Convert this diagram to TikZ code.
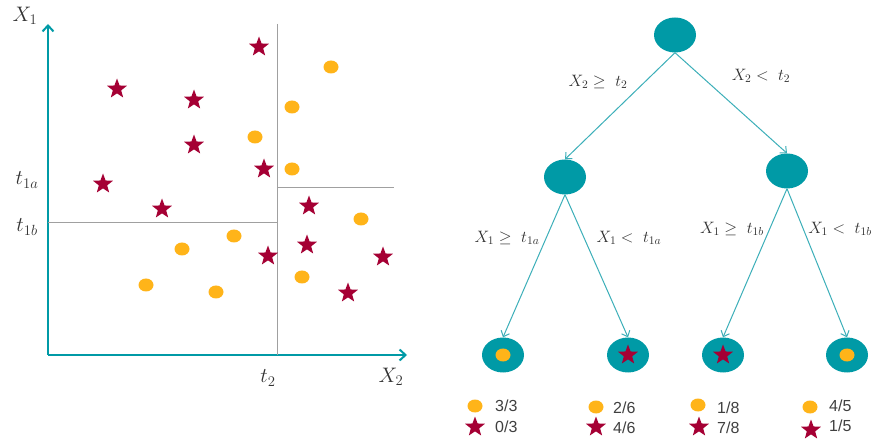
\RequirePackage{fix-cm}
\documentclass[tikz,border=0pt]{standalone}
\usepackage{fontspec}
\newfontfamily\legfont{Liberation Sans}
\usetikzlibrary{shapes.geometric,arrows.meta}
\definecolor{teal1}{RGB}{0,154,166}
\definecolor{tealline}{RGB}{60,175,185}
\definecolor{orng}{RGB}{255,180,25}
\definecolor{crim}{RGB}{165,0,52}
\definecolor{gridc}{RGB}{160,160,160}
\definecolor{legtxt}{RGB}{64,64,64}
\tikzset{
  dot/.style={ellipse,fill=orng,minimum width=15pt,minimum height=13pt,inner sep=0pt},
  starpt/.style={star,star points=5,star point ratio=2.4,fill=crim,minimum size=21pt,inner sep=0pt},
  tnode/.style={ellipse,fill=teal1,minimum width=42pt,minimum height=35pt,inner sep=0pt},
  axis/.style={teal1,line width=2.6pt,-{Straight Barb[length=6pt,width=11pt,line width=2pt]}},
  splitline/.style={gridc,line width=0.9pt},
  edgearrow/.style={tealline,line width=1pt,-{Straight Barb[length=5pt,width=9pt]}},
  lbl/.style={font=\fontsize{16.5}{19}\selectfont,text=black!80,inner sep=0pt},
  axlbl/.style={font=\fontsize{21}{24}\selectfont,text=black!80,inner sep=0pt},
  legtext/.style={font=\legfont\fontsize{16}{18}\selectfont,text=legtxt,anchor=west,inner sep=0pt}
}
\begin{document}
\begin{tikzpicture}[x=1pt,y=-1pt]
\useasboundingbox[fill=white] (0,0) rectangle (875,443);
% ---------- left scatter plot ----------
\coordinate (O) at (48,355);
\coordinate (ytip) at (48,24);
\coordinate (xtip) at (407,355);
\draw[axis] (O) -- (ytip);
\draw[axis] (O) -- (xtip);
\coordinate (vtop) at (277,24);
\coordinate (vbot) at (277,355);
\draw[splitline] (vtop) -- (vbot);
\coordinate (hbL) at (48,222);
\coordinate (hbR) at (277,222);
\draw[splitline] (hbL) -- (hbR);
\coordinate (haL) at (277,187);
\coordinate (haR) at (394,187);
\draw[splitline] (haL) -- (haR);
\node[axlbl] (lx1) at (25,16) {$X_1$};
\node[axlbl] (lt1a) at (27,180) {$t_{1a}$};
\node[axlbl] (lt1b) at (27,227) {$t_{1b}$};
\node[axlbl] (lt2) at (268,378) {$t_2$};
\node[axlbl] (lx2) at (391,377) {$X_2$};
% stars
\node[starpt] (s1) at (259,47) {};
\node[starpt] (s2) at (117,89) {};
\node[starpt] (s3) at (194,100) {};
\node[starpt] (s4) at (194,145) {};
\node[starpt] (s5) at (264,169) {};
\node[starpt] (s6) at (103,184) {};
\node[starpt] (s7) at (162,209) {};
\node[starpt] (s8) at (309,206) {};
\node[starpt] (s9) at (307,245) {};
\node[starpt] (s10) at (268,256) {};
\node[starpt] (s11) at (383,257) {};
\node[starpt] (s12) at (348,293) {};
% dots
\node[dot] (d1) at (331,67) {};
\node[dot] (d2) at (292,107) {};
\node[dot] (d3) at (255,137) {};
\node[dot] (d4) at (292,169) {};
\node[dot] (d5) at (361,219) {};
\node[dot] (d6) at (234,236) {};
\node[dot] (d7) at (182,249) {};
\node[dot] (d8) at (302,277) {};
\node[dot] (d9) at (146,285) {};
\node[dot] (d10) at (216,292) {};
% ---------- tree ----------
\node[tnode] (root) at (675,35) {};
\node[tnode] (L) at (565,177) {};
\node[tnode] (R) at (787,171) {};
\node[tnode] (LL) at (503,355) {};
\node[tnode] (LR) at (628,355) {};
\node[tnode] (RL) at (723,355) {};
\node[tnode] (RR) at (847,355) {};
\draw[edgearrow] (root.south) -- (L.north);
\draw[edgearrow] (root.south) -- (R.north);
\draw[edgearrow] (L.south) -- (LL.north);
\draw[edgearrow] (L.south) -- (LR.north);
\draw[edgearrow] (R.south) -- (RL.north);
\draw[edgearrow] (R.south) -- (RR.north);
\node[lbl] (e1) at (598,82) {$X_2 \geq\ t_2$};
\node[lbl] (e2) at (761,76) {$X_2 <\ t_2$};
\node[lbl] (e3) at (507,238) {$X_1 \geq\ t_{1a}$};
\node[lbl] (e4) at (629,238) {$X_1 <\ t_{1a}$};
\node[lbl] (e5) at (732,229) {$X_1 \geq\ t_{1b}$};
\node[lbl] (e6) at (840,229) {$X_1 <\ t_{1b}$};
% leaf icons
\node[dot] (i1) at (LL) {};
\node[starpt] (i2) at (LR) {};
\node[starpt] (i3) at (RL) {};
\node[dot] (i4) at (RR) {};
% ---------- legends ----------
\node[dot] (g1d) at (475,406) {};
\node[starpt] (g1s) at (475,427) {};
\node[legtext] (g1a) at (495,406) {3/3};
\node[legtext] (g1b) at (495,427) {0/3};
\node[dot] (g2d) at (596,407) {};
\node[starpt] (g2s) at (596,427) {};
\node[legtext] (g2a) at (613,408) {2/6};
\node[legtext] (g2b) at (613,428) {4/6};
\node[dot] (g3d) at (698,405) {};
\node[starpt] (g3s) at (699,427) {};
\node[legtext] (g3a) at (717,408) {1/8};
\node[legtext] (g3b) at (717,428) {7/8};
\node[dot] (g4d) at (810,407) {};
\node[starpt] (g4s) at (811,430) {};
\node[legtext] (g4a) at (829,406) {4/5};
\node[legtext] (g4b) at (829,426) {1/5};
\end{tikzpicture}
\end{document}
